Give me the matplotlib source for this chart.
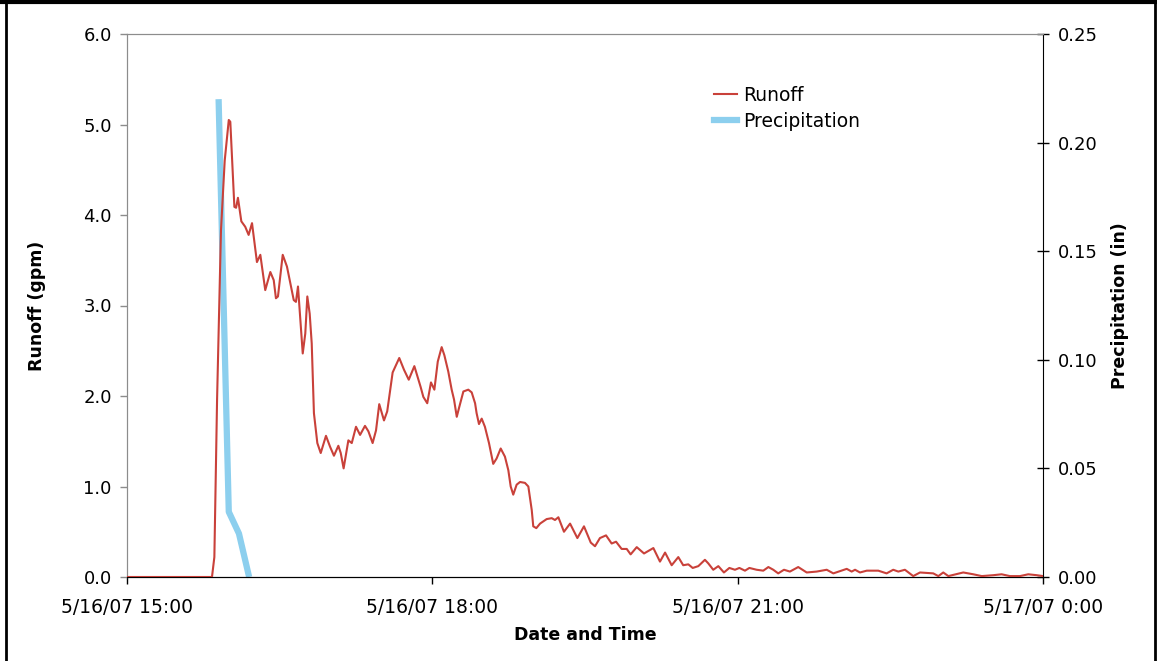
import matplotlib
matplotlib.use("Agg")
import matplotlib.pyplot as plt
from matplotlib.lines import Line2D

# --- Data (minutes after 5/16/07 15:00) ---
runoff_min = [0.0, 50.1, 51.5, 53.1, 55.4, 57.6, 60.0, 60.9, 63.3, 64.3, 65.4, 67.4, 69.7, 71.7,
              73.7, 76.6, 78.6, 81.5, 84.5, 86.5, 87.8, 89.0, 91.8, 94.3, 98.3, 99.6, 100.8,
              103.6, 105.1, 106.3, 107.7, 108.9, 110.2, 112.2, 114.2, 117.3, 119.7, 122.0,
              124.6, 126.0, 127.7, 130.5, 132.5, 135.0, 137.4, 140.3, 142.3, 144.8, 146.8,
              148.7, 151.5, 153.4, 156.6, 160.5, 163.3, 166.1, 169.4, 173.1, 174.7, 177.0,
              179.2, 181.2, 183.2, 185.5, 187.1, 189.4, 191.4, 192.8, 194.4, 195.9, 198.3,
              201.2, 203.2, 205.2, 206.1, 207.5, 209.1, 211.0, 213.4, 215.9, 217.9, 220.3,
              222.8, 224.8, 226.2, 227.7, 229.7, 231.7, 234.6, 236.6, 238.6, 239.5, 241.3,
              243.5, 247.4, 250.4, 252.3, 254.3, 257.6, 261.2, 265.5, 269.4, 273.4, 275.9,
              278.8, 282.4, 285.7, 288.3, 291.6, 294.6, 296.9, 300.5, 304.8, 310.3, 314.2,
              317.2, 321.1, 325.0, 327.9, 330.9, 333.5, 336.8, 340.7, 342.7, 345.6, 348.6,
              351.9, 355.1, 358.4, 361.0, 364.3, 366.9, 371.2, 375.1, 378.1, 381.0, 383.9,
              387.3, 390.8, 395.7, 400.7, 406.6, 412.5, 416.4, 424.3, 427.2, 429.2, 432.1,
              436.1, 442.9, 447.8, 451.7, 454.7, 458.6, 463.5, 467.5, 475.3, 478.3, 481.2,
              484.2, 493.0, 498.9, 503.9, 510.7, 515.6, 520.5, 526.4, 531.3, 536.3, 540.0]
runoff_gpm = [0.0, 0.0, 0.22, 1.96, 3.83, 4.60, 5.05, 5.03, 4.09, 4.08, 4.19, 3.93, 3.87, 3.78,
              3.91, 3.48, 3.56, 3.17, 3.37, 3.28, 3.08, 3.10, 3.56, 3.43, 3.06, 3.04, 3.21,
              2.47, 2.69, 3.10, 2.91, 2.58, 1.81, 1.48, 1.37, 1.56, 1.44, 1.34,
              1.45, 1.37, 1.20, 1.51, 1.48, 1.66, 1.57, 1.67, 1.61, 1.48, 1.62,
              1.91, 1.73, 1.83, 2.26, 2.42, 2.29, 2.18, 2.33, 2.10, 1.99, 1.92,
              2.15, 2.07, 2.38, 2.54, 2.45, 2.27, 2.07, 1.96, 1.77, 1.88, 2.05,
              2.07, 2.04, 1.92, 1.81, 1.69, 1.75, 1.66, 1.48, 1.25, 1.31, 1.42,
              1.33, 1.18, 1.00, 0.91, 1.02, 1.05, 1.04, 1.00, 0.74, 0.56, 0.54,
              0.59, 0.64, 0.65, 0.63, 0.66, 0.50, 0.59, 0.43, 0.56, 0.38, 0.34,
              0.43, 0.46, 0.37, 0.39, 0.31, 0.31, 0.25, 0.33, 0.26, 0.32, 0.17,
              0.27, 0.13, 0.22, 0.13, 0.14, 0.10, 0.12, 0.19, 0.15, 0.08, 0.12,
              0.05, 0.10, 0.08, 0.10, 0.07, 0.10, 0.08, 0.07, 0.11, 0.08, 0.04,
              0.08, 0.06, 0.11, 0.05, 0.06, 0.08, 0.04, 0.09, 0.06, 0.08, 0.05,
              0.07, 0.07, 0.04, 0.08, 0.06, 0.08, 0.01, 0.05, 0.04, 0.01, 0.05,
              0.01, 0.05, 0.03, 0.01, 0.02, 0.03, 0.01, 0.01, 0.03, 0.02, 0.01]
precip_min = [54, 60, 66, 72]
precip_in = [0.22, 0.03, 0.02, 0.0]

xtick_min = [0, 180, 360, 540]
xtick_labels = ["5/16/07 15:00", "5/16/07 18:00", "5/16/07 21:00", "5/17/07 0:00"]
yl_ticks = [0.0, 1.0, 2.0, 3.0, 4.0, 5.0, 6.0]
yr_ticks = [0.00, 0.05, 0.10, 0.15, 0.20, 0.25]

plt.rcParams['font.family'] = ['DejaVu Sans']

W, H = 1157, 661
fig = plt.figure(figsize=(W / 100, H / 100), dpi=100)
L, R, T, B = 127, 1043, 34, 577
ax = fig.add_axes([L / W, 1 - B / H, (R - L) / W, (B - T) / H])
ax2 = ax.twinx()

red = '#C9413A'
blue = '#8CCFEE'
gray = '#8C8C8C'

ax.plot(runoff_min, runoff_gpm, color=red, lw=1.5, zorder=3)
ax2.plot(precip_min, precip_in, color=blue, lw=4.5, solid_capstyle='butt', zorder=2)
ax.set_zorder(ax2.get_zorder() + 1)
ax.patch.set_visible(False)

ax.set_xlim(0, 540)
ax.set_ylim(0, 6)
ax2.set_ylim(0, 0.25)

ax.set_xticks(xtick_min)
ax.set_xticklabels(xtick_labels)
ax.set_yticks(yl_ticks)
ax.set_yticklabels([f"{v:.1f}" for v in yl_ticks])
ax2.set_yticks(yr_ticks)
ax2.set_yticklabels([f"{v:.2f}" for v in yr_ticks])

fs = 13
ax.tick_params(axis='y', direction='out', length=5, width=1, colors=gray, labelcolor='black', labelsize=fs, pad=6)
ax.tick_params(axis='x', direction='out', length=5, width=1, colors='black', labelsize=13.5, pad=10)
ax2.tick_params(axis='y', direction='inout', length=9, width=1, colors='black', labelsize=fs, pad=6)

for s in ['left', 'top']:
    ax.spines[s].set_color(gray)
    ax2.spines[s].set_color(gray)
ax.spines['bottom'].set_color('black')
ax2.spines['bottom'].set_color('black')
ax2.spines['right'].set_color('black')
ax.spines['right'].set_visible(False)

lfs = 12.5
ax.set_ylabel("Runoff (gpm)", fontsize=lfs, fontweight='bold')
ax.yaxis.set_label_coords((37 - L) / (R - L), 0.5)
ax2.set_ylabel("Precipitation (in)", fontsize=lfs, fontweight='bold')
ax2.yaxis.set_label_coords((1120 - L) / (R - L), 0.5)
ax.set_xlabel("Date and Time", fontsize=lfs, fontweight='bold')
ax.xaxis.set_label_coords(0.5, -(635 - B) / (B - T))
ax.xaxis.label.set_va('center')
ax.yaxis.label.set_va('center')
ax2.yaxis.label.set_va('center')

handles = [Line2D([], [], color=red, lw=1.5), Line2D([], [], color=blue, lw=4.5)]
fig.legend(handles, ["Runoff", "Precipitation"], loc='upper left',
           bbox_to_anchor=(699 / W, 1 - 71 / H), frameon=False, fontsize=13.5,
           handlelength=1.25, handletextpad=0.3, labelspacing=0.35, borderpad=0.3)

# outer frame
fig.add_artist(Line2D([0, 1], [1 - 2 / H, 1 - 2 / H], transform=fig.transFigure, color='black', lw=3))
fig.add_artist(Line2D([6 / W, 6 / W], [0, 1], transform=fig.transFigure, color='black', lw=2))
fig.add_artist(Line2D([1 - 2 / W, 1 - 2 / W], [0, 1], transform=fig.transFigure, color='black', lw=2))

fig.savefig("out.png", dpi=100)
